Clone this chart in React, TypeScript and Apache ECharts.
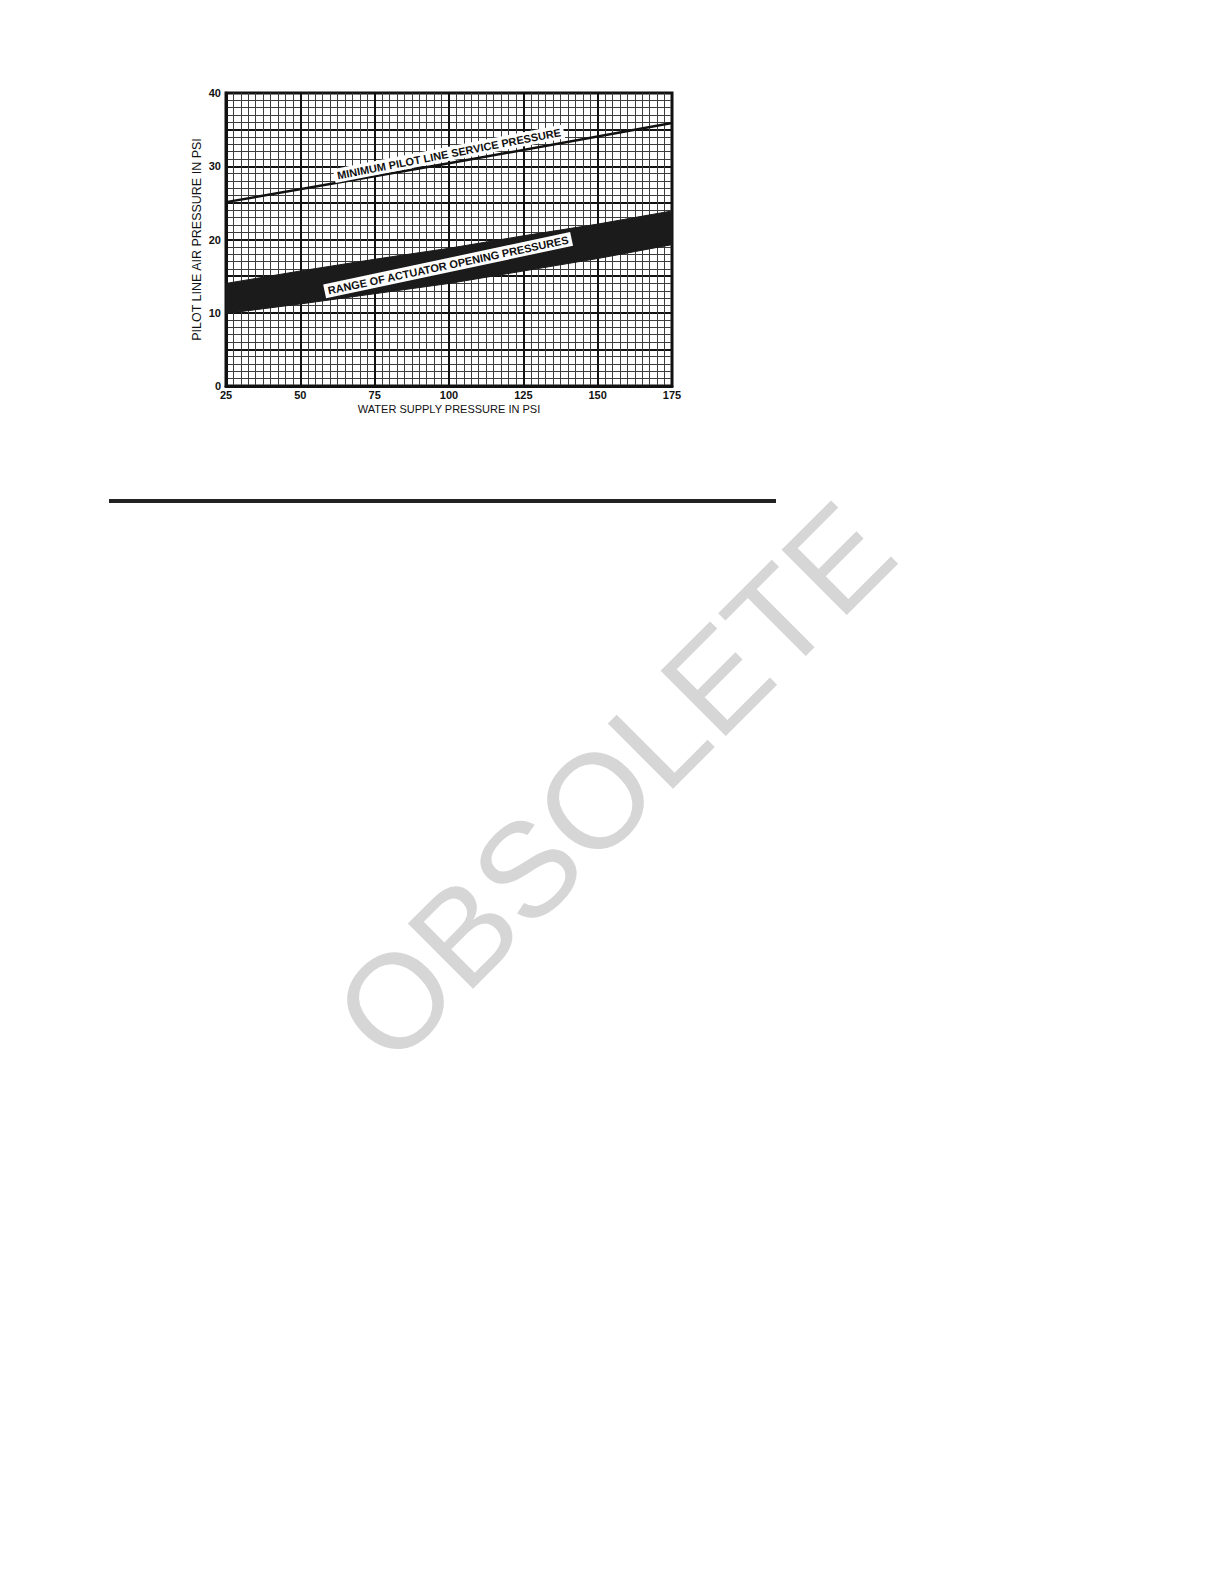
import { useEffect, useRef } from "react";
import * as echarts from "echarts";

// water supply pressure (psi) sampled at each major tick
const supplyPsi = [25, 50, 75, 100, 125, 150, 175];
// range of actuator opening pressures, lower and upper edges (psi)
const bandLow = [9.9, 11.2, 12.6, 14.0, 15.7, 17.4, 19.3];
const bandHigh = [14.0, 15.7, 17.3, 18.8, 20.5, 22.1, 23.9];

// minimum pilot line service pressure (straight line)
const minLineX = [25, 100, 175];
const minLineY = [25.1, 30.4, 35.9];

const xTicks = [25, 50, 75, 100, 125, 150, 175];
const yTickLabels = [0, 10, 20, 30, 40];

const labelMin = { text: "MINIMUM PILOT LINE SERVICE PRESSURE", at: [100, 31.7], angle: 11 };
const labelBand = { text: "RANGE OF ACTUATOR OPENING PRESSURES", at: [99.7, 16.5], angle: 12 };

const FONT = "'Liberation Sans', Arial, Helvetica, sans-serif";

export default function App() {
  const ref = useRef<HTMLDivElement>(null);

  useEffect(() => {
    if (!ref.current) return;
    const chart = echarts.init(ref.current, undefined, { renderer: "svg" });

    const textLabel = (l: typeof labelMin) => ({
      type: "scatter",
      symbolSize: 0,
      silent: true,
      z: 10,
      itemStyle: { opacity: 1 },
      data: [l.at],
      label: {
        show: true,
        position: "inside",
        formatter: l.text,
        rotate: l.angle,
        color: "#111",
        opacity: 1,
        fontFamily: FONT,
        fontWeight: "bold",
        fontSize: 11,
        backgroundColor: "#fff",
        padding: [2, 3, 1, 3],
      },
    });

    chart.setOption({
      animation: false,
      backgroundColor: "#fff",
      textStyle: { fontFamily: FONT },
      grid: {
        left: 226,
        top: 93,
        width: 446,
        height: 293,
        show: true,
        borderColor: "#111",
        borderWidth: 3,
        backgroundColor: "transparent",
      },
      xAxis: {
        type: "value",
        min: 25,
        max: 175,
        interval: 25,
        name: "WATER SUPPLY PRESSURE IN PSI",
        nameLocation: "middle",
        nameGap: 17,
        nameTextStyle: { fontFamily: FONT, fontSize: 11, color: "#111" },
        axisLine: { show: true, lineStyle: { color: "#111", width: 3 } },
        axisTick: { show: false },
        axisLabel: {
          margin: 3,
          fontFamily: FONT,
          fontWeight: "bold",
          fontSize: 11,
          color: "#111",
          formatter: (v: number) => (xTicks.includes(v) ? String(v) : ""),
        },
        splitLine: { show: true, lineStyle: { color: "#111", width: 2 } },
        minorTick: { show: false, splitNumber: 10 },
        minorSplitLine: { show: true, lineStyle: { color: "#3c3c3c", width: 1 } },
      },
      yAxis: {
        type: "value",
        min: 0,
        max: 40,
        interval: 5,
        name: "PILOT LINE AIR PRESSURE IN PSI",
        nameLocation: "middle",
        nameGap: 23,
        nameTextStyle: { fontFamily: FONT, fontSize: 12.5, color: "#111" },
        axisLine: { show: true, lineStyle: { color: "#111", width: 3 } },
        axisTick: { show: false },
        axisLabel: {
          margin: 5,
          fontFamily: FONT,
          fontWeight: "bold",
          fontSize: 11,
          color: "#111",
          formatter: (v: number) => (yTickLabels.includes(v) ? String(v) : ""),
        },
        splitLine: { show: true, lineStyle: { color: "#111", width: 2 } },
        minorTick: { show: false, splitNumber: 5 },
        minorSplitLine: { show: true, lineStyle: { color: "#3c3c3c", width: 1 } },
      },
      series: [
        {
          // shaded band between the lower and upper opening pressures
          type: "custom",
          silent: true,
          z: 3,
          data: [0],
          renderItem: (_params: any, api: any) => {
            const upper = supplyPsi.map((x, i) => api.coord([x, bandHigh[i]]));
            const lower = supplyPsi
              .map((x, i) => api.coord([x, bandLow[i]]))
              .reverse();
            return {
              type: "polygon",
              shape: { points: upper.concat(lower) },
              style: { fill: "#1b1b1b", stroke: "#1b1b1b", lineWidth: 1 },
            };
          },
        },
        {
          type: "line",
          name: "minimum",
          symbol: "none",
          silent: true,
          z: 4,
          lineStyle: { color: "#111", width: 2.5 },
          data: minLineX.map((x, i) => [x, minLineY[i]]),
        },
        textLabel(labelMin),
        textLabel(labelBand),
      ],
      graphic: [
        {
          type: "rect",
          shape: { x: 109, y: 499, width: 667, height: 4 },
          style: { fill: "#222" },
        },
        {
          type: "text",
          x: 614,
          y: 782,
          rotation: Math.PI / 4,
          z: -1,
          style: {
            text: "OBSOLETE",
            fill: "#d6d6d6",
            font: `134px ${FONT}`,
            align: "center",
            verticalAlign: "middle",
          },
        },
      ],
    });

    return () => chart.dispose();
  }, []);

  return (
    <div
      ref={ref}
      style={{ position: "absolute", left: 0, top: 0, width: 1224, height: 1584 }}
    />
  );
}
